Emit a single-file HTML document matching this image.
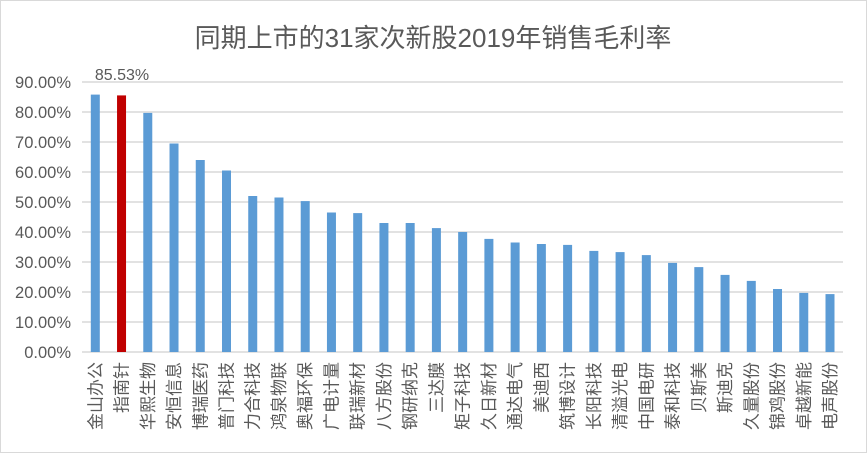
<!DOCTYPE html>
<html><head><meta charset="utf-8"><style>
body{margin:0;background:#fff}
svg{display:block}
text{font-family:"Liberation Sans","Noto Sans CJK SC",sans-serif;fill:#595959}
</style></head><body>
<svg width="867" height="453" viewBox="0 0 867 453">
<rect x="0.5" y="0.5" width="866" height="452" fill="#fff" stroke="#d9d9d9"/>
<text x="433" y="47" font-size="26" text-anchor="middle">同期上市的31家次新股2019年销售毛利率</text>
</svg>
<script>
const vals=[85.8,85.53,79.7,69.5,64,60.5,52,51.5,50.3,46.5,46.3,43,43,41.3,40,37.7,36.5,36,35.7,33.7,33.3,32.3,29.7,28.3,25.7,23.7,21,19.7,19.3];
const names=["金山办公","指南针","华熙生物","安恒信息","博瑞医药","普门科技","力合科技","鸿泉物联","奥福环保","广电计量","联瑞新材","八方股份","钢研纳克","三达膜","矩子科技","久日新材","通达电气","美迪西","筑博设计","长阳科技","清溢光电","中国电研","泰和科技","贝斯美","斯迪克","久量股份","锦鸡股份","卓越新能","电声股份"];
const ns="http://www.w3.org/2000/svg";
const svg=document.querySelector('svg');
function el(t,a,txt){const e=document.createElementNS(ns,t);for(const k in a)e.setAttribute(k,a[k]);if(txt)e.textContent=txt;svg.appendChild(e);return e;}
for(let i=0;i<=9;i++){const y=352-i*30;
el('line',{x1:82,x2:843,y1:y,y2:y,stroke:'#d9d9d9','stroke-width':1.5});
el('text',{x:71,y:y+6,'font-size':16.5,'text-anchor':'end'},(i*10).toFixed(2)+'%');}
const sp=(830-95.3)/28;
vals.forEach((v,i)=>{const cx=95.3+i*sp;const h=v*3;
el('rect',{x:cx-4.5,y:352-h,width:9,height:h,fill:i==1?'#c00000':'#5b9bd5'});
el('text',{transform:`translate(${cx+6},362) rotate(-90)`,'font-size':17,'text-anchor':'end'},names[i]);
});
el('text',{x:122,y:80,'font-size':16,'text-anchor':'middle'},'85.53%');
</script>
</body></html>
